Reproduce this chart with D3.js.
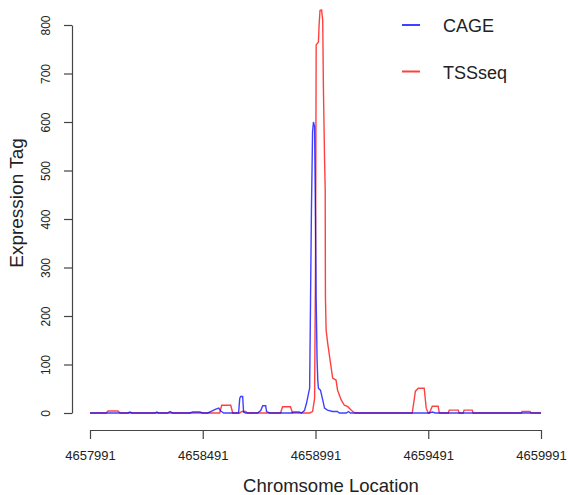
<!DOCTYPE html>
<html>
<head>
<meta charset="utf-8">
<script src="https://cdn.jsdelivr.net/npm/d3@7"></script>
<style>
  body { margin: 0; background: #fff; }
  text { font-family: "Liberation Sans", Arial, sans-serif; fill: #222; }
</style>
</head>
<body>
<div id="chart"></div>
<script>
// series: chromosome position and tag count
var cagePos = [4657991, 4658159, 4658168, 4658177, 4658279, 4658287, 4658296, 4658336, 4658345, 4658358,
               4658433, 4658447, 4658478, 4658491, 4658513, 4658531, 4658549, 4658562, 4658571, 4658584,
               4658650, 4658655, 4658659, 4658668, 4658672, 4658681, 4658734, 4658748, 4658757, 4658770,
               4658774, 4658788, 4658885, 4658894, 4658916, 4658929, 4658942, 4658951, 4658960, 4658965,
               4658969, 4658973, 4658978, 4658982, 4658987, 4658991, 4658994, 4658998, 4659001, 4659004,
               4659013, 4659023, 4659031, 4659044, 4659066, 4659088, 4659097, 4659128, 4659137, 4659146,
               4659496, 4659509, 4659522, 4659991];
var cageTag = [0, 0, 2, 0, 0, 2, 0, 0, 3, 0,
               0, 2, 2, 0, 0, 4, 8, 10, 4, 0,
               0, 30, 34, 34, 2, 0, 0, 5, 15, 15,
               3, 0, 0, 2, 2, 0, 5, 20, 40, 51,
               233, 420, 580, 600, 590, 400, 233, 110, 68, 51,
               47, 27, 10, 6, 3, 3, 0, 0, 3, 0,
               0, 2, 0, 0];

var tssPos = [4657991, 4658062, 4658071, 4658115, 4658124, 4658566, 4658575, 4658615, 4658624, 4658655,
              4658664, 4658681, 4658690, 4658836, 4658845, 4658880, 4658889, 4658965, 4658978, 4658987,
              4658991, 4658994, 4659004, 4659007, 4659011, 4659018, 4659023, 4659026, 4659031, 4659034,
              4659035, 4659038, 4659045, 4659060, 4659067, 4659082, 4659089, 4659105, 4659119, 4659134,
              4659149, 4659156, 4659168, 4659420, 4659434, 4659447, 4659473, 4659482, 4659491, 4659496,
              4659509, 4659535, 4659540, 4659580, 4659584, 4659624, 4659628, 4659646, 4659650, 4659686,
              4659690, 4659903, 4659907, 4659942, 4659947, 4659991];
var tssTag = [0, 0, 4, 4, 0, 0, 16, 16, 0, 0,
              3, 3, 0, 0, 13, 13, 0, 0, 3, 30,
              300, 759, 765, 800, 830, 831, 810, 673, 528, 460,
              240, 171, 144, 95, 72, 68, 47, 27, 16, 13,
              6, 3, 0, 0, 45, 51, 51, 10, 0, 0,
              14, 14, 0, 0, 6, 6, 0, 0, 6, 6,
              0, 0, 3, 3, 0, 0];

var xTicks = [4657991, 4658491, 4658991, 4659491, 4659991];
var yTicks = [0, 100, 200, 300, 400, 500, 600, 700, 800];
var seriesNames = ["CAGE", "TSSseq"];
var seriesColors = ["#0000ff", "#ff0000"];

var W = 568, H = 495;

var svg = d3.select("#chart")
    .append("svg")
    .attr("width", W)
    .attr("height", H);

var x = d3.scaleLinear()
    .domain([4657991, 4659991])
    .range([90, 541]);

var y = d3.scaleLinear()
    .domain([0, 800])
    .range([413, 25]);

var line = d3.line()
    .x(function (d) { return x(d[0]); })
    .y(function (d) { return y(d[1]); });

var tss = d3.zip(tssPos, tssTag);
var cage = d3.zip(cagePos, cageTag);

svg.append("path")
    .datum(tss)
    .attr("d", line)
    .attr("fill", "none")
    .attr("stroke", seriesColors[1])
    .attr("stroke-opacity", 0.75)
    .attr("stroke-width", 1.4);

svg.append("path")
    .datum(cage)
    .attr("d", line)
    .attr("fill", "none")
    .attr("stroke", seriesColors[0])
    .attr("stroke-opacity", 0.75)
    .attr("stroke-width", 1.4);

// x axis
var xAxis = svg.append("g")
    .attr("transform", "translate(0,430)")
    .call(d3.axisBottom(x).tickValues(xTicks).tickFormat(d3.format("d")).tickSize(9).tickSizeOuter(0));
xAxis.select(".domain").attr("stroke", "#444").attr("stroke-width", 1.2);
xAxis.selectAll(".tick line").attr("stroke", "#444").attr("stroke-width", 1.2);
xAxis.selectAll(".tick text")
    .attr("y", 30)
    .attr("dy", 0)
    .style("font-size", "13px")
    .style("font-family", "Liberation Sans, Arial, sans-serif")
    .attr("fill", "#222");

// y axis
var yAxis = svg.append("g")
    .attr("transform", "translate(72,0)")
    .call(d3.axisLeft(y).tickValues(yTicks).tickSize(8).tickSizeOuter(0));
yAxis.select(".domain").attr("stroke", "#444").attr("stroke-width", 1.2);
yAxis.selectAll(".tick line").attr("stroke", "#444").attr("stroke-width", 1.2);
yAxis.selectAll(".tick text")
    .attr("x", 0)
    .attr("dy", 0)
    .attr("text-anchor", "middle")
    .attr("transform", "translate(-22,0) rotate(-90)")
    .style("font-size", "12px")
    .style("font-family", "Liberation Sans, Arial, sans-serif")
    .attr("fill", "#222");

svg.append("text")
    .attr("x", 331)
    .attr("y", 492)
    .attr("text-anchor", "middle")
    .style("font-size", "18.5px")
    .text("Chromsome Location");

svg.append("text")
    .attr("transform", "translate(23,203) rotate(-90)")
    .attr("text-anchor", "middle")
    .style("font-size", "19px")
    .text("Expression Tag");

// legend
var legend = svg.selectAll(".legend")
    .data(seriesNames)
    .enter()
    .append("g")
    .attr("transform", function (d, i) { return "translate(402," + (25 + i * 46.5) + ")"; });
legend.append("line")
    .attr("x1", 0)
    .attr("x2", 18)
    .attr("stroke", function (d, i) { return seriesColors[i]; })
    .attr("stroke-opacity", 0.75)
    .attr("stroke-width", 2);
legend.append("text")
    .attr("x", 41)
    .attr("y", 7)
    .style("font-size", "18px")
    .text(function (d) { return d; });
</script>
</body>
</html>
